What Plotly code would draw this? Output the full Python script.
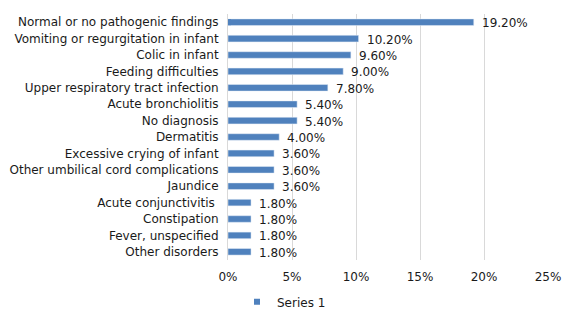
import plotly.graph_objects as go

categories = [
    "Normal or no pathogenic findings",
    "Vomiting or regurgitation in infant",
    "Colic in infant",
    "Feeding difficulties",
    "Upper respiratory tract infection",
    "Acute bronchiolitis",
    "No diagnosis",
    "Dermatitis",
    "Excessive crying of infant",
    "Other umbilical cord complications",
    "Jaundice",
    "Acute conjunctivitis\u00a0",
    "Constipation",
    "Fever, unspecified",
    "Other disorders",
]
values = [0.192, 0.102, 0.096, 0.090, 0.078, 0.054, 0.054, 0.040, 0.036, 0.036, 0.036, 0.018, 0.018, 0.018, 0.018]
tick_vals = [0, 0.05, 0.10, 0.15, 0.20, 0.25]

FONT = "DejaVu Sans"
COLOR = "#4f81bd"

fig = go.Figure()
fig.add_trace(go.Bar(
    y=categories, x=values, orientation="h",
    marker_color=COLOR, width=0.4, showlegend=False,
))
for c, v in zip(categories, values):
    fig.add_annotation(x=v, y=c, text=f"{v*100:.2f}%", showarrow=False,
                       xanchor="left", xshift=6, yshift=-1,
                       font=dict(family=FONT, size=12, color="#1a1a1a"))
# legend-only marker (sits hidden under the first bar's start)
fig.add_trace(go.Scatter(
    x=[0], y=[categories[0]], mode="markers", name="Series 1",
    marker=dict(symbol="square", size=6, color=COLOR), hoverinfo="skip",
))
fig.update_layout(
    width=576, height=322,
    margin=dict(l=228, r=28, t=14, b=62, autoexpand=False),
    paper_bgcolor="white", plot_bgcolor="white",
    font=dict(family=FONT, size=12, color="#1a1a1a"),
    showlegend=True,
    legend=dict(orientation="h", x=0.175, xanchor="center",
                y=-0.17, yanchor="middle",
                font=dict(family=FONT, size=12), itemwidth=30),
    xaxis=dict(range=[0, 0.25], tickvals=tick_vals, tickformat=".0%",
               showgrid=True, gridcolor="#d9d9d9", gridwidth=1,
               zeroline=False, showline=False, automargin=False,
               ticks="outside", ticklen=6, tickcolor="rgba(0,0,0,0)"),
    yaxis=dict(range=[len(categories) - 0.5, -0.5], showgrid=False, showline=True,
               linecolor="#d9d9d9", linewidth=1, automargin=False,
               ticks="outside", ticklen=6, tickcolor="rgba(0,0,0,0)"),
)
fig.write_html("out.html")
